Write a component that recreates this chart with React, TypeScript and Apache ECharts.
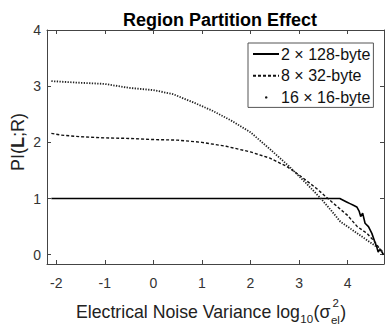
import React, { useEffect, useRef } from "react";
import * as echarts from "echarts";

const seriesNames = ["2 × 128-byte", "8 × 32-byte", "16 × 16-byte"];

const solidX = [-2.1, -1, 0, 1, 2, 3, 3.5, 3.72, 3.84, 3.91, 3.98, 4.05, 4.12, 4.19, 4.24, 4.27, 4.31, 4.36, 4.43, 4.5, 4.56, 4.6, 4.63, 4.67, 4.7, 4.74];
const solidY = [1, 1, 1, 1, 1, 1, 1, 1, 1.0, 0.97, 0.94, 0.91, 0.88, 0.85, 0.77, 0.68, 0.74, 0.56, 0.5, 0.38, 0.23, 0.14, 0.05, 0.1, 0.06, 0.0];

const dashX = [-2.1, -1.9, -1.5, -1, -0.5, 0, 0.5, 1, 1.5, 2, 2.4, 2.75, 3.0, 3.36, 3.7, 4.0, 4.2, 4.4, 4.55, 4.65, 4.72];
const dashY = [2.16, 2.13, 2.1, 2.08, 2.07, 2.05, 2.04, 2.0, 1.93, 1.83, 1.72, 1.57, 1.42, 1.18, 0.92, 0.7, 0.5, 0.38, 0.24, 0.12, 0.05];

const dotX = [-2.1, -1.5, -1, -0.5, 0, 0.4, 0.8, 1.2, 1.6, 2.0, 2.4, 2.8, 3.15, 3.45, 3.65, 3.85, 4.05, 4.25, 4.45, 4.6, 4.72];
const dotY = [3.09, 3.06, 3.04, 2.97, 2.93, 2.86, 2.72, 2.57, 2.39, 2.18, 1.88, 1.57, 1.27, 1.0, 0.8, 0.59, 0.47, 0.35, 0.23, 0.14, 0.05];

const xTicks = [-2, -1, 0, 1, 2, 3, 4];
const yTicks = [0, 1, 2, 3, 4];

const FONT = "Liberation Sans, Arial, Helvetica, sans-serif";
const AX = "#444";
const TXT = "#333";

function pairs(xs: number[], ys: number[]) {
  return xs.map((x, i) => [x, ys[i]]);
}

function measure(text: string, size: number): number {
  const c = document.createElement("canvas").getContext("2d");
  if (!c) return text.length * size * 0.5;
  c.font = `${size}px "Liberation Sans", Arial, sans-serif`;
  return c.measureText(text).width;
}

export default function App() {
  const ref = useRef<HTMLDivElement>(null);
  useEffect(() => {
    if (!ref.current) return;
    const chart = echarts.init(ref.current, null, { renderer: "svg" });
    const axisCommon = {
      type: "value" as const,
      axisLine: { show: true, onZero: false, lineStyle: { color: AX, width: 1 } },
      splitLine: { show: false },
    };

    // x-axis title pieces laid out left to right
    const big = 17.7;
    const small = 11.5;
    const mainTxt = "Electrical Noise Variance log";
    const x0 = 76;
    const xSub = x0 + measure(mainTxt, big) + 0.5;
    const xParen = xSub + measure("10", small) + 0.5;
    const xSig = xParen + measure("(σ", big) + 0.5;
    const xClose = xSig + Math.max(measure("el", small), measure("2", small)) + 0.5;

    chart.setOption({
      animation: false,
      backgroundColor: "#fff",
      textStyle: { fontFamily: FONT },
      title: {
        text: "Region Partition Effect",
        left: 215,
        top: 6,
        textAlign: "center",
        textStyle: { fontFamily: FONT, fontSize: 18, fontWeight: "bold", color: "#000" },
      },
      grid: { left: 47, top: 30, width: 337, height: 234, show: false },
      legend: {
        orient: "vertical",
        left: 248,
        top: 43,
        padding: [3, 3, 2, 4],
        itemWidth: 26,
        itemHeight: 14,
        itemGap: 5.7,
        itemStyle: { opacity: 0 },
        backgroundColor: "#fff",
        borderColor: "#555",
        borderWidth: 1,
        borderRadius: 0,
        textStyle: { fontFamily: FONT, fontSize: 16, lineHeight: 14, color: "#111", padding: [0, 0, 0, -3] },
        data: [
          { name: seriesNames[0] },
          { name: seriesNames[1] },
          {
            name: seriesNames[2],
            icon: "path://M0 0 M26 14 M12 7 a1.2 1.2 0 1 0 2.4 0 a1.2 1.2 0 1 0 -2.4 0 Z",
            itemStyle: { opacity: 1, color: "#111" },
          },
        ],
      },
      xAxis: [
        {
          ...axisCommon,
          position: "bottom",
          min: -2.19,
          max: 4.75,
          axisTick: { show: true, inside: true, length: 4, customValues: xTicks, lineStyle: { color: AX } },
          axisLabel: { show: true, customValues: xTicks, fontFamily: FONT, fontSize: 14, color: TXT, margin: 12 },
        },
        {
          ...axisCommon,
          position: "top",
          min: -2.19,
          max: 4.75,
          axisTick: { show: true, inside: true, length: 4, customValues: xTicks, lineStyle: { color: AX } },
          axisLabel: { show: false },
        },
      ],
      yAxis: [
        {
          ...axisCommon,
          position: "left",
          min: -0.165,
          max: 4,
          axisTick: { show: true, inside: true, length: 4, customValues: yTicks, lineStyle: { color: AX } },
          axisLabel: { show: true, customValues: yTicks, fontFamily: FONT, fontSize: 14, color: TXT, margin: 6 },
        },
        {
          ...axisCommon,
          position: "right",
          min: -0.165,
          max: 4,
          axisTick: { show: true, inside: true, length: 4, customValues: yTicks, lineStyle: { color: AX } },
          axisLabel: { show: false },
        },
      ],
      series: [
        {
          name: seriesNames[0],
          type: "line",
          data: pairs(solidX, solidY),
          symbol: "none",
          color: "#000",
          lineStyle: { color: "#000", width: 1.6, type: "solid" },
        },
        {
          name: seriesNames[1],
          type: "line",
          data: pairs(dashX, dashY),
          symbol: "none",
          color: "#000",
          lineStyle: { color: "#111", width: 1.4, type: [3, 2] },
        },
        {
          name: seriesNames[2],
          type: "line",
          data: pairs(dotX, dotY),
          symbol: "none",
          color: "#000",
          lineStyle: { color: "#222", width: 1.8, type: [1.3, 1.4] },
        },
      ],
      graphic: [
        {
          type: "text",
          x: 18,
          y: 142,
          rotation: Math.PI / 2,
          style: {
            text: "{n|PI(}{b|L}{n|;R)}",
            align: "center",
            verticalAlign: "middle",
            rich: {
              n: { fontFamily: FONT, fontSize: 18, fill: "#222" },
              b: { fontFamily: FONT, fontSize: 18, fontWeight: "bold", fill: "#222" },
            },
          },
        },
        {
          type: "text",
          x: x0,
          y: 312,
          style: { text: mainTxt, fontFamily: FONT, fontSize: big, fill: "#222", verticalAlign: "middle", align: "left" },
        },
        {
          type: "text",
          x: xSub,
          y: 319,
          style: { text: "10", fontFamily: FONT, fontSize: small, fill: "#222", verticalAlign: "middle", align: "left" },
        },
        {
          type: "text",
          x: xParen,
          y: 312,
          style: { text: "(σ", fontFamily: FONT, fontSize: big, fill: "#222", verticalAlign: "middle", align: "left" },
        },
        {
          type: "text",
          x: xSig + 1.5,
          y: 303,
          style: { text: "2", fontFamily: FONT, fontSize: small, fill: "#222", verticalAlign: "middle", align: "left" },
        },
        {
          type: "text",
          x: xSig,
          y: 319.5,
          style: { text: "el", fontFamily: FONT, fontSize: small, fill: "#222", verticalAlign: "middle", align: "left" },
        },
        {
          type: "text",
          x: xClose,
          y: 312,
          style: { text: ")", fontFamily: FONT, fontSize: big, fill: "#222", verticalAlign: "middle", align: "left" },
        },
      ],
    });
    return () => chart.dispose();
  }, []);
  return <div ref={ref} style={{ width: 386, height: 326, position: "absolute", left: 0, top: 0 }} />;
}
